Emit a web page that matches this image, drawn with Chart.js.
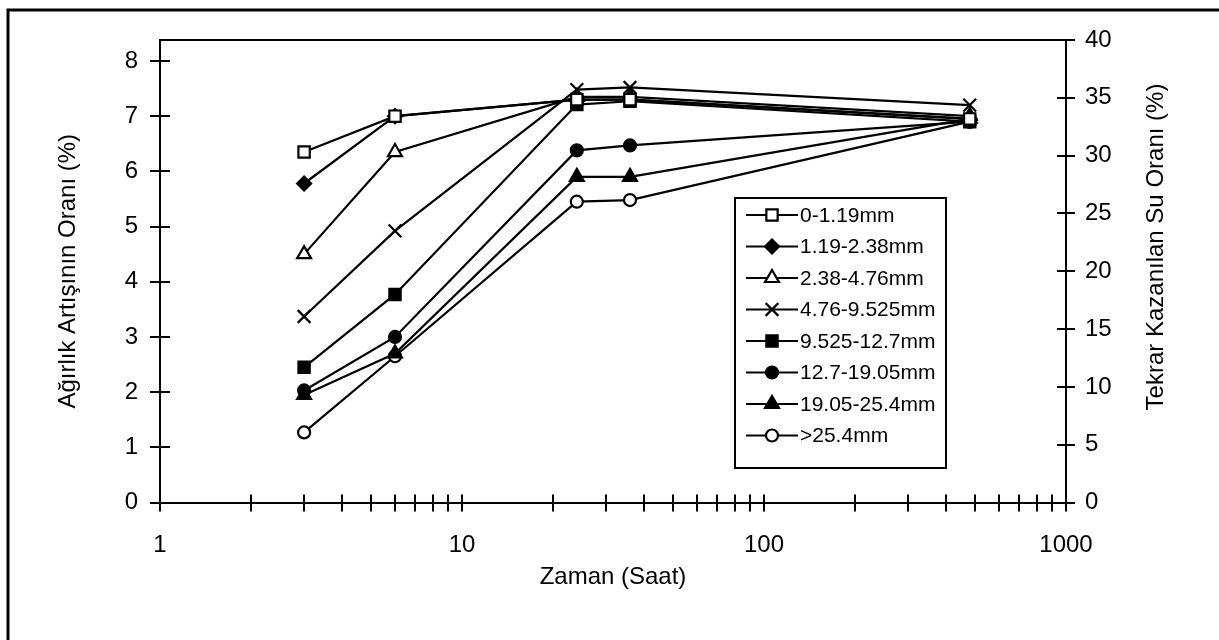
<!DOCTYPE html>
<html><head><meta charset="utf-8">
<script src="https://cdn.jsdelivr.net/npm/chart.js@4/dist/chart.umd.min.js"></script>
<style>html,body{margin:0;padding:0;background:#fff}canvas{display:block}</style>
</head><body>
<canvas id="c" width="1219" height="640"></canvas>
<script>
// ---- data ----
const times = [3, 6, 24, 36, 480];
const seriesNames = ['0-1.19mm','1.19-2.38mm','2.38-4.76mm','4.76-9.525mm','9.525-12.7mm','12.7-19.05mm','19.05-25.4mm','>25.4mm'];
const s0 = [6.35, 7.00, 7.30, 7.30, 6.95];
const s1 = [5.78, 7.00, 7.30, 7.30, 6.95];
const s2 = [4.50, 6.35, 7.35, 7.35, 7.00];
const s3 = [3.37, 4.92, 7.48, 7.52, 7.20];
const s4 = [2.45, 3.77, 7.21, 7.27, 6.90];
const s5 = [2.03, 3.00, 6.38, 6.47, 6.90];
const s6 = [1.95, 2.70, 5.90, 5.90, 6.95];
const s7 = [1.27, 2.65, 5.45, 5.48, 6.90];
const seriesValues = [s0, s1, s2, s3, s4, s5, s6, s7];
const xTickValues = [1,2,3,4,5,6,7,8,9,10,20,30,40,50,60,70,80,90,100,200,300,400,500,600,700,800,900,1000];
const xLabelValues = [1, 10, 100, 1000];
const leftTicks = [0,1,2,3,4,5,6,7,8];
const rightTicks = [0,5,10,15,20,25,30,35,40];
const rightTitle = 'Tekrar Kazanılan Su Oranı (%)';

// ---- styles ----
const FONT = "'Liberation Sans', Arial, sans-serif";
const markers = [
  {style:'rect', r:8, fill:'#fff'},
  {style:'rectRot', r:7, fill:'#000'},
  {style:'triangle', r:8, fill:'#fff'},
  {style:'crossRot', r:9, fill:'#000'},
  {style:'rect', r:8, fill:'#000'},
  {style:'circle', r:6, fill:'#000'},
  {style:'triangle', r:8, fill:'#000'},
  {style:'circle', r:6, fill:'#fff'}
];

const datasets = seriesValues.map((vals, i) => ({
  label: seriesNames[i],
  data: times.map((t, j) => ({x: t, y: vals[j]})),
  yAxisID: 'y',
  borderColor: '#000',
  borderWidth: 2.2,
  pointStyle: markers[i].style,
  pointRadius: markers[i].r,
  pointHoverRadius: markers[i].r,
  pointBackgroundColor: markers[i].fill,
  pointBorderColor: '#000',
  pointBorderWidth: 2.2,
  tension: 0,
  fill: false
}));

const decor = {
  id: 'decor',
  afterDraw(chart) {
    const ctx = chart.ctx, a = chart.chartArea;
    const sx = chart.scales.x, sy = chart.scales.y, sy2 = chart.scales.y2;
    ctx.save();
    ctx.strokeStyle = '#000';
    ctx.lineWidth = 2;
    ctx.beginPath(); ctx.moveTo(a.left, a.top); ctx.lineTo(a.right, a.top); ctx.stroke();
    sx.ticks.forEach(t => {
      const p = Math.round(sx.getPixelForValue(t.value));
      ctx.beginPath(); ctx.moveTo(p, a.bottom - 8); ctx.lineTo(p, a.bottom + 9); ctx.stroke();
    });
    sy.ticks.forEach(t => {
      const p = Math.round(sy.getPixelForValue(t.value));
      ctx.beginPath(); ctx.moveTo(a.left - 10, p); ctx.lineTo(a.left + 10, p); ctx.stroke();
    });
    sy2.ticks.forEach(t => {
      const p = Math.round(sy2.getPixelForValue(t.value));
      ctx.beginPath(); ctx.moveTo(a.right - 9, p); ctx.lineTo(a.right + 9, p); ctx.stroke();
    });
    // right axis title (reads bottom to top)
    ctx.save();
    ctx.fillStyle = '#000';
    ctx.font = '24px ' + FONT;
    ctx.textAlign = 'center';
    ctx.textBaseline = 'middle';
    ctx.translate(1156, 247);
    ctx.rotate(-Math.PI / 2);
    ctx.fillText(rightTitle, 0, 0);
    ctx.restore();
    // outer frame
    ctx.lineWidth = 3;
    ctx.beginPath(); ctx.moveTo(8, 640); ctx.lineTo(8, 10); ctx.lineTo(1219, 10); ctx.stroke();
    // legend
    const lx = 735, ly = 198, lw = 211, lh = 270;
    ctx.fillStyle = '#fff';
    ctx.fillRect(lx, ly, lw, lh);
    ctx.lineWidth = 2;
    ctx.strokeRect(lx, ly, lw, lh);
    ctx.font = '21px ' + FONT;
    ctx.textBaseline = 'middle';
    ctx.textAlign = 'left';
    chart.data.datasets.forEach((ds, i) => {
      const yy = 215 + i * 31.5;
      ctx.strokeStyle = '#000'; ctx.lineWidth = 2.2;
      ctx.beginPath(); ctx.moveTo(746, yy); ctx.lineTo(798, yy); ctx.stroke();
      ctx.fillStyle = ds.pointBackgroundColor;
      ctx.strokeStyle = '#000';
      Chart.helpers.drawPoint(ctx, {pointStyle: ds.pointStyle, radius: ds.pointRadius, rotation: 0, borderWidth: 2.2}, 772, yy);
      ctx.fillStyle = '#000';
      ctx.fillText(ds.label, 800, yy + 1);
    });
    ctx.restore();
  }
};

new Chart(document.getElementById('c'), {
  type: 'line',
  data: { datasets },
  plugins: [decor],
  options: {
    responsive: false,
    animation: false,
    devicePixelRatio: 1,
    layout: { padding: { left: 0, right: 0, top: 40, bottom: 0 } },
    plugins: { legend: { display: false }, tooltip: { enabled: false } },
    scales: {
      x: {
        type: 'logarithmic',
        min: 1, max: 1000,
        afterBuildTicks: s => { s.ticks = xTickValues.map(v => ({value: v, major: xLabelValues.includes(v)})); },
        afterFit: s => { s.height = 137.5; },
        grid: { display: false, drawTicks: false },
        border: { display: true, color: '#000', width: 2 },
        ticks: {
          autoSkip: false, maxRotation: 0, padding: 28, color: '#000',
          font: { family: FONT, size: 24 },
          callback: v => xLabelValues.includes(v) ? String(v) : ''
        },
        title: { display: true, text: 'Zaman (Saat)', color: '#000', font: { family: FONT, size: 24 }, padding: { top: 0, bottom: 48 } }
      },
      y: {
        position: 'left',
        min: 0, max: 8.38,
        afterBuildTicks: s => { s.ticks = leftTicks.map(v => ({value: v})); },
        afterFit: s => { s.width = 160; },
        grid: { display: false, drawTicks: false },
        border: { display: true, color: '#000', width: 2 },
        ticks: { padding: 22, color: '#000', font: { family: FONT, size: 24 } },
        title: { display: true, text: 'Ağırlık Artışının Oranı (%)', color: '#000', font: { family: FONT, size: 24 }, padding: { top: 54, bottom: 0 } }
      },
      y2: {
        position: 'right',
        min: 0, max: 40,
        afterBuildTicks: s => { s.ticks = rightTicks.map(v => ({value: v})); },
        afterFit: s => { s.width = 153; },
        grid: { display: false, drawTicks: false },
        border: { display: true, color: '#000', width: 2 },
        ticks: { padding: 19, color: '#000', font: { family: FONT, size: 24 } },
        title: { display: false }
      }
    }
  }
});
</script>
</body></html>
